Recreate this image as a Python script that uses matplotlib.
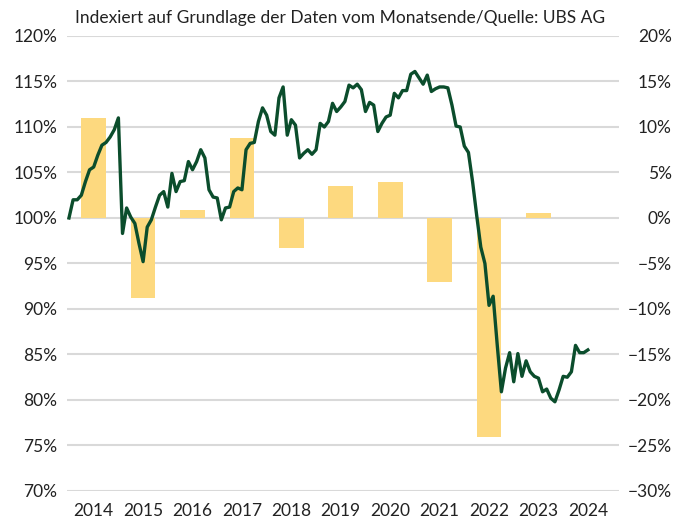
import matplotlib.pyplot as plt
import numpy as np

plt.rcParams['font.family'] = ['Lato', 'DejaVu Sans']

# monthly index values (Dec 2013 = 100)
index_vals = [
    100.0, 102.0, 102.0, 102.5, 104.0, 105.3, 105.6, 106.9, 108.0, 108.3,
    108.9, 109.7, 111.0, 98.3, 101.1, 100.1, 99.4, 97.2, 95.2, 99.0,
    99.8, 101.2, 102.5, 102.9, 101.2, 104.9, 102.9, 104.0, 104.1, 106.2,
    105.3, 106.2, 107.5, 106.6, 103.1, 102.3, 102.2, 99.8, 101.1, 101.2,
    102.9, 103.3, 103.1, 107.5, 108.2, 108.3, 110.6, 112.1, 111.3, 109.5,
    109.1, 113.2, 114.4, 109.1, 110.8, 110.2, 106.6, 107.1, 107.5, 107.0,
    107.5, 110.4, 110.0, 110.6, 112.6, 111.7, 112.2, 112.8, 114.6, 114.3,
    114.7, 114.1, 111.7, 112.7, 112.4, 109.5, 110.4, 111.1, 111.3, 113.7,
    113.2, 114.0, 114.0, 115.8, 116.1, 115.4, 114.7, 115.7, 113.9, 114.2,
    114.4, 114.4, 114.3, 112.4, 110.1, 110.0, 107.9, 107.2, 104.0, 100.3,
    96.8, 95.0, 90.4, 91.4, 86.0, 80.9, 83.5, 85.2, 82.0, 85.1,
    82.6, 84.3, 83.1, 82.6, 82.4, 80.9, 81.2, 80.2, 79.8, 81.1,
    82.6, 82.5, 83.1, 86.0, 85.2, 85.2, 85.5,
]

# yearly performance in %
years = [2014, 2015, 2016, 2017, 2018, 2019, 2020, 2021, 2022, 2023]
year_perf = [11.0, -8.8, 0.9, 8.8, -3.3, 3.5, 3.9, -7.0, -24.1, 0.5]

tick_years = [2014, 2015, 2016, 2017, 2018, 2019, 2020, 2021, 2022, 2023, 2024]
left_ticks = [70, 75, 80, 85, 90, 95, 100, 105, 110, 115, 120]
right_ticks = [-30, -25, -20, -15, -10, -5, 0, 5, 10, 15, 20]

green = '#0b4d2c'
yellow = '#fdd97f'
grid_c = '#d9d9d9'
txt_c = '#222222'

months = 2014 + np.arange(len(index_vals)) / 12.0

fig = plt.figure(figsize=(6.74, 5.2), dpi=100)
ax = fig.add_axes([0.0994, 0.0558, 0.819, 0.875])
ax2 = ax.twinx()

# bars on the right axis, drawn below the line
ax2.bar(np.array(years) + 0.5, year_perf, width=0.5, color=yellow, zorder=2)
ax2.set_ylim(-30, 20)
ax2.set_yticks(right_ticks)
ax2.set_yticklabels([('\u2212' if v < 0 else '') + f'{abs(v)}%' for v in right_ticks])
ax2.grid(axis='y', color=grid_c, lw=1.5, zorder=0)
ax2.set_axisbelow(True)

ax.plot(months, index_vals, color=green, lw=2.4, solid_joinstyle='round', zorder=3)
ax.set_ylim(70, 120)
ax.set_yticks(left_ticks)
ax.set_yticklabels([f'{v}%' for v in left_ticks])
ax.set_xlim(2013.96, 2025.13)
ax.set_xticks(np.array(tick_years) + 0.5)
ax.set_xticklabels([str(y) for y in tick_years])

ax.set_zorder(ax2.get_zorder() + 1)
ax.patch.set_visible(False)

for a in (ax, ax2):
    for s in a.spines.values():
        s.set_visible(False)
    a.tick_params(length=0, labelsize=12.5, colors=txt_c)

ax.tick_params(axis='y', pad=7)
ax.tick_params(axis='x', pad=9)
ax2.tick_params(axis='y', pad=38)
for lbl in ax2.get_yticklabels():
    lbl.set_horizontalalignment('right')

fig.text(0.504, 0.965, 'Indexiert auf Grundlage der Daten vom Monatsende/Quelle: UBS AG',
         ha='center', va='center', fontsize=12.5, color=txt_c)

fig.savefig('out.png', dpi=100)
